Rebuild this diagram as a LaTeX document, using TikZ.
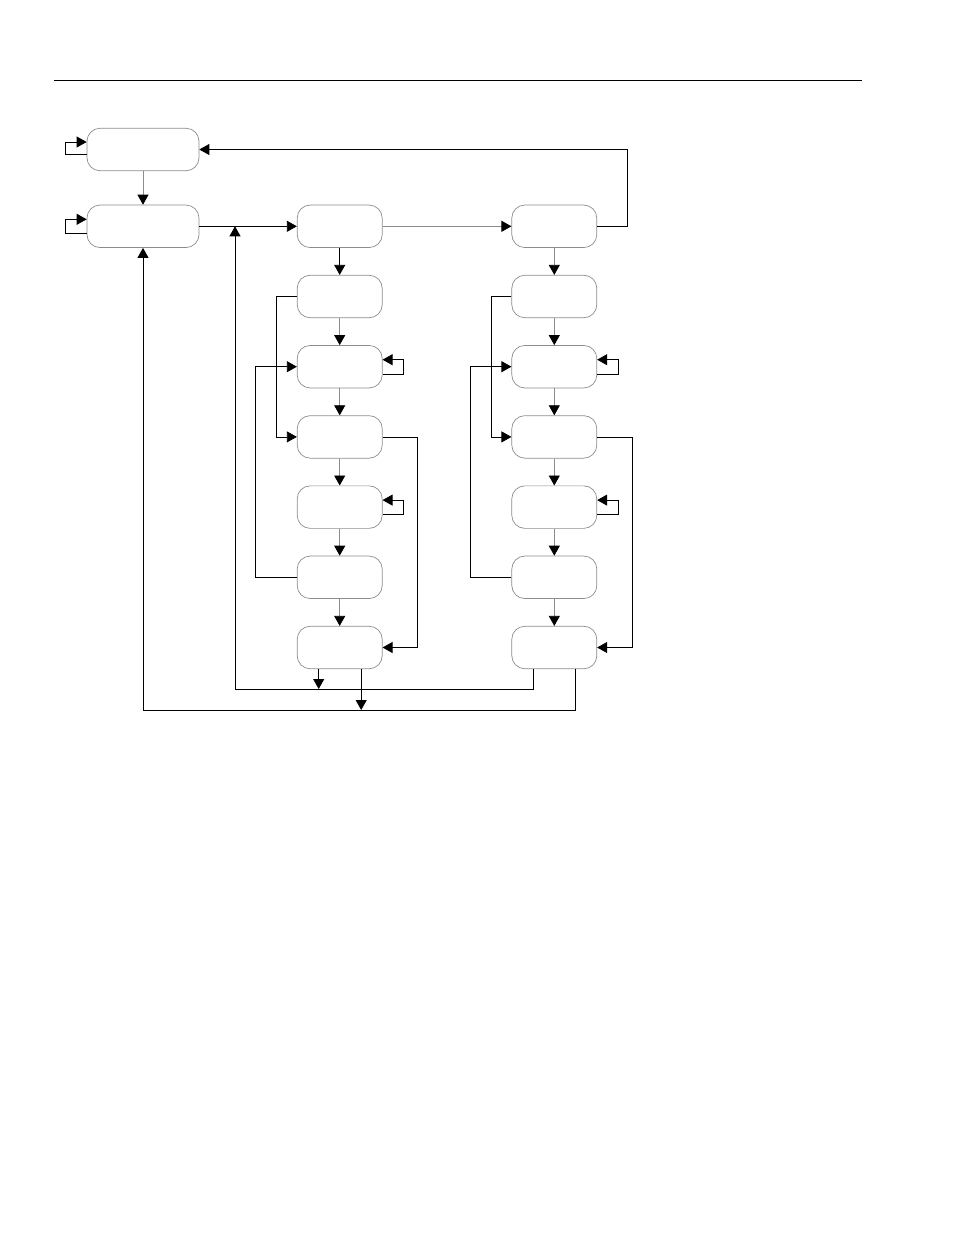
\documentclass[tikz,border=0pt]{standalone}
\usetikzlibrary{arrows.meta,calc}
\begin{document}
\begin{tikzpicture}[x=1pt,y=-1pt,line width=0.8pt,
  state/.style={draw=black!45,rounded corners=13pt,minimum width=85pt,minimum height=42.5pt,inner sep=0pt,line width=0.7pt},
  wide/.style={state,minimum width=112pt},
  arr/.style={-{Triangle[length=10pt,width=11pt,color=black]}},
  lg/.style={draw=black!45}]
\useasboundingbox (0,0) rectangle (954,1235);
% top rule
\draw[line width=1pt] (54,80) -- (862,80);
% states
\node[wide] (A) at (143,149.5) {};
\node[wide] (B) at (143,226.3) {};
\node[state] (C) at (339.7,226.3) {};
\node[state] (D) at (554.3,226.3) {};
\foreach \k in {1,...,6}{
  \node[state] (C\k) at (339.7,{226.3+70.2*\k}) {};
  \node[state] (D\k) at (554.3,{226.3+70.2*\k}) {};
}
% self loops
\draw[arr] ($(A.west)+(0,5)$) -- ++(-21,0) |- ($(A.west)+(0,-7.5)$);
\draw[arr] ($(B.west)+(0,7)$) -- ++(-21,0) |- ($(B.west)+(0,-7)$);
\foreach \n in {C2,C4,D2,D4}{
  \draw[arr] ($(\n.east)+(0,7.5)$) -- ++(21,0) |- ($(\n.east)+(0,-7)$);
}
% main chain
\draw[arr,lg] (A.south) -- (B.north);
\draw[arr] (B.east) -- (C.west);
\draw[arr,lg] (C.east) -- (D.west);
\draw[arr] (C.south) -- (C1.north);
\draw[arr,lg] (D.south) -- (D1.north);
\foreach \a/\b in {1/2,2/3,3/4,4/5,5/6}{
  \draw[arr,lg] (C\a.south) -- (C\b.north);
  \draw[arr,lg] (D\a.south) -- (D\b.north);
}
% left-side branches
\draw[arr] (C1.west) -- ++(-20,0) |- (C3.west);
\draw[arr] (C5.west) -- ++(-41.5,0) |- (C2.west);
\draw[arr] (D1.west) -- ++(-20,0) |- (D3.west);
\draw[arr] (D5.west) -- ++(-41,0) |- (D2.west);
% right-side branches
\draw[arr] (C3.east) -- ++(35,0) |- (C6.east);
\draw[arr] (D3.east) -- ++(35,0) |- (D6.east);
% return to A
\coordinate (t1) at (627,149.5);
\draw[arr] (D.east) -| (t1) -- (A.east);
% bottom returns
\coordinate (r1) at (235,689);
\coordinate (r2) at (143,710);
\coordinate (c6a) at ($(C6.south)+(-21,0)$);
\coordinate (c6b) at ($(C6.south)+(21.5,0)$);
\coordinate (d6a) at ($(D6.south)+(-21,0)$);
\coordinate (d6b) at ($(D6.south)+(21.5,0)$);
\draw[arr] (d6a) |- (r1) -- (r1 |- B.east);
\draw[arr] (d6b) |- (r2) -- (B.south);
\draw[arr] (c6a) -- (c6a |- r1);
\draw[arr] (c6b) -- (c6b |- r2);
\end{tikzpicture}
\end{document}
